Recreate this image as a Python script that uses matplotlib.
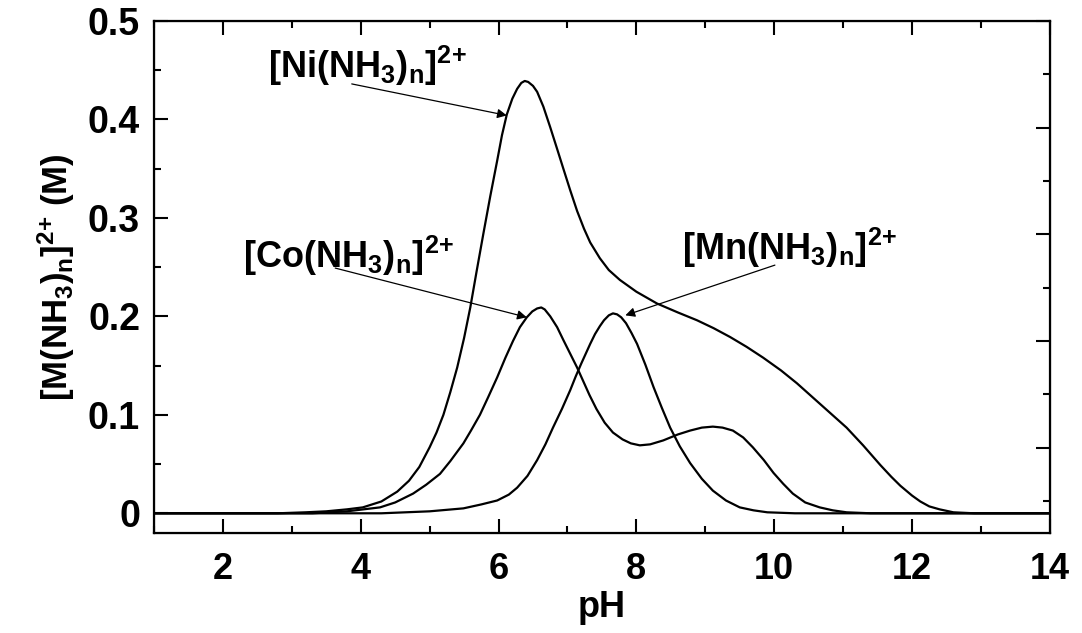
import numpy as np
import matplotlib
matplotlib.use('Agg')
import matplotlib.pyplot as plt
from matplotlib.ticker import MultipleLocator

plt.rcParams['font.family'] = ['Liberation Sans', 'DejaVu Sans']
plt.rcParams['font.weight'] = 'bold'
plt.rcParams['axes.labelweight'] = 'bold'
plt.rcParams['mathtext.fontset'] = 'custom'
plt.rcParams['mathtext.rm'] = 'Liberation Sans:bold'
plt.rcParams['mathtext.it'] = 'Liberation Sans:bold'
plt.rcParams['mathtext.bf'] = 'Liberation Sans:bold'

# values
ph_ni = [1.0, 2.8, 3.2, 3.5, 3.8, 4.03, 4.3, 4.53, 4.7, 4.85, 5.0, 5.1, 5.2, 5.3, 5.4, 5.5, 5.59,
         5.68, 5.78, 5.88, 5.98, 6.05, 6.12, 6.2, 6.27, 6.33, 6.38, 6.43, 6.5, 6.56, 6.65, 6.75,
         6.85, 6.94, 7.04, 7.14, 7.24, 7.33, 7.47, 7.6, 7.76, 8.0, 8.3, 8.6, 8.88, 9.12, 9.36,
         9.6, 9.84, 10.1, 10.33, 10.57, 10.81, 11.05, 11.29, 11.54, 11.7, 11.83, 12.0, 12.12,
         12.25, 12.4, 12.6, 12.9, 14.0]
c_ni = [0, 0, 0.001, 0.002, 0.004, 0.006, 0.012, 0.022, 0.033, 0.047, 0.067, 0.082, 0.10, 0.123,
        0.148, 0.178, 0.209, 0.245, 0.284, 0.322, 0.358, 0.384, 0.405, 0.421, 0.431, 0.437, 0.439,
        0.438, 0.434, 0.428, 0.413, 0.392, 0.370, 0.350, 0.328, 0.307, 0.289, 0.275, 0.259, 0.247,
        0.237, 0.225, 0.213, 0.204, 0.196, 0.188, 0.179, 0.169, 0.158, 0.145, 0.132, 0.117, 0.102,
        0.087, 0.069, 0.049, 0.037, 0.028, 0.018, 0.012, 0.007, 0.004, 0.001, 0, 0]

ph_co = [1.0, 3.3, 3.8, 4.28, 4.5, 4.76, 4.95, 5.15, 5.3, 5.49, 5.6, 5.73, 5.85, 5.98, 6.1, 6.21,
         6.31, 6.41, 6.49, 6.56, 6.62, 6.67, 6.75, 6.85, 6.94, 7.04, 7.14, 7.23, 7.32, 7.42, 7.54,
         7.66, 7.8, 7.92, 8.05, 8.2, 8.39, 8.6, 8.78, 8.95, 9.11, 9.25, 9.4, 9.55, 9.69, 9.85,
         9.99, 10.13, 10.27, 10.45, 10.66, 10.85, 11.05, 11.4, 14.0]
c_co = [0, 0, 0.002, 0.006, 0.011, 0.02, 0.029, 0.04, 0.053, 0.071, 0.084, 0.10, 0.118, 0.138,
        0.158, 0.175, 0.189, 0.199, 0.205, 0.208, 0.209, 0.207, 0.200, 0.189, 0.176, 0.162, 0.148,
        0.134, 0.120, 0.106, 0.092, 0.082, 0.075, 0.071, 0.069, 0.070, 0.074, 0.080, 0.084, 0.087,
        0.088, 0.087, 0.084, 0.077, 0.067, 0.054, 0.041, 0.030, 0.02, 0.011, 0.006, 0.003, 0.001,
        0, 0]

ph_mn = [1.0, 4.3, 5.0, 5.49, 5.75, 5.98, 6.15, 6.27, 6.42, 6.56, 6.68, 6.79, 6.92, 7.04, 7.12,
         7.2, 7.33, 7.4, 7.47, 7.53, 7.6, 7.66, 7.72, 7.78, 7.85, 7.93, 8.01, 8.13, 8.25, 8.37,
         8.49, 8.63, 8.78, 8.95, 9.11, 9.3, 9.5, 9.7, 9.9, 10.3, 14.0]
c_mn = [0, 0, 0.002, 0.005, 0.009, 0.013, 0.019, 0.026, 0.038, 0.054, 0.070, 0.087, 0.106, 0.125,
        0.139, 0.152, 0.172, 0.182, 0.19, 0.196, 0.201, 0.203, 0.202, 0.199, 0.193, 0.183, 0.172,
        0.151, 0.128, 0.107, 0.087, 0.068, 0.051, 0.035, 0.023, 0.013, 0.006, 0.003, 0.001, 0, 0]

x_ticks = [2, 4, 6, 8, 10, 12, 14]
y_ticks = [0, 0.1, 0.2, 0.3, 0.4, 0.5]
y_ticklabels = ['0', '0.1', '0.2', '0.3', '0.4', '0.5']

fig = plt.figure(figsize=(10.82, 6.33), dpi=100)
ax = fig.add_axes([0.1423, 0.158, 0.828, 0.809])

for ph, c in [(ph_ni, c_ni), (ph_co, c_co), (ph_mn, c_mn)]:
    ax.plot(ph, c, color='black', lw=1.6, solid_joinstyle='round')

ax.set_xlim(1, 14)
ax.set_ylim(-0.02, 0.5)
ax.set_xticks(x_ticks)
ax.set_xticklabels([str(t) for t in x_ticks])
ax.set_yticks(y_ticks)
ax.set_yticklabels(y_ticklabels)
ax.xaxis.set_minor_locator(MultipleLocator(1))
ax.yaxis.set_minor_locator(MultipleLocator(0.05))
ax.tick_params(which='both', direction='in', top=True, right=False, width=1.5)
ax.tick_params(which='major', length=10)
ax.tick_params(which='minor', length=5)
ax.tick_params(axis='x', pad=14, labelsize=26)
ax.tick_params(axis='y', pad=10, labelsize=27)
for s in ax.spines.values():
    s.set_linewidth(1.6)

# right-hand scale is offset in the original
ax2 = ax.twinx()
ax2.set_ylim(0.02, 0.5)
ax2.yaxis.set_major_locator(MultipleLocator(0.1))
ax2.yaxis.set_minor_locator(MultipleLocator(0.05))
ax2.tick_params(which='both', direction='in', width=1.5, labelright=False)
ax2.tick_params(which='major', length=10)
ax2.tick_params(which='minor', length=5)

ax.set_xlabel('pH', fontsize=26, fontweight='bold', labelpad=2)
ax.set_ylabel(r'[M(NH$_3$)$_n$]$^{2{+}}$ (M)', fontsize=25, fontweight='bold', labelpad=8)

arrow = dict(arrowstyle='-|>', lw=0.9, color='black', mutation_scale=14, shrinkA=0, shrinkB=0)
ax.text(2.65, 0.442, r'[Ni(NH$_3$)$_n$]$^{2{+}}$', fontsize=26)
ax.annotate('', xy=(6.12, 0.404), xytext=(3.87, 0.436), arrowprops=arrow)
ax.text(2.29, 0.249, r'[Co(NH$_3$)$_n$]$^{2{+}}$', fontsize=26)
ax.annotate('', xy=(6.41, 0.199), xytext=(3.63, 0.249), arrowprops=arrow)
ax.text(8.66, 0.257, r'[Mn(NH$_3$)$_n$]$^{2{+}}$', fontsize=26)
ax.annotate('', xy=(7.84, 0.201), xytext=(10.01, 0.252), arrowprops=arrow)

fig.savefig('out.png', dpi=100)
